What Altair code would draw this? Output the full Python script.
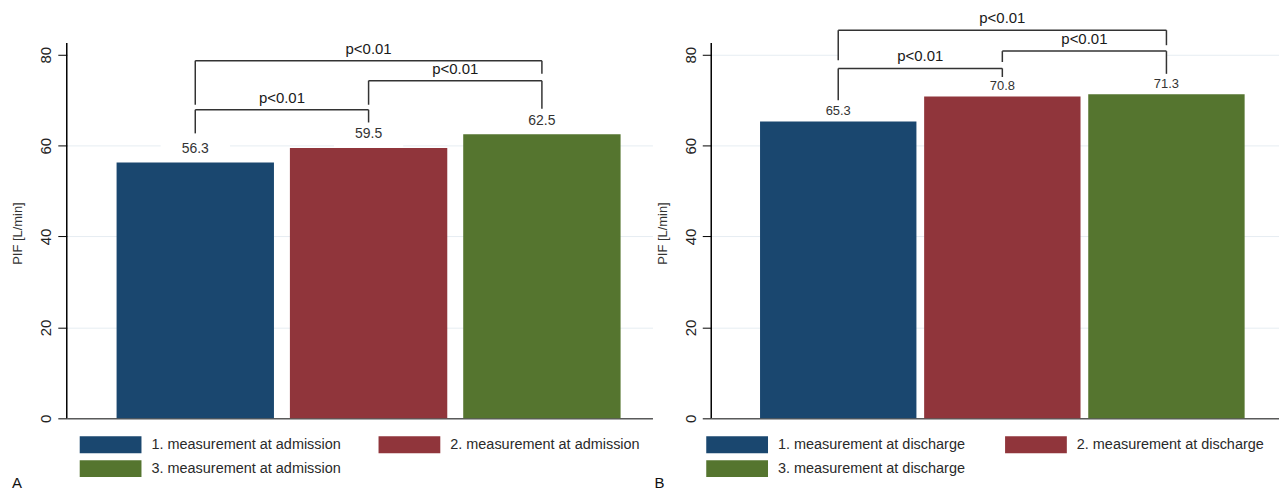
import altair as alt
import pandas as pd

# ---------------- data ----------------
A_categories = ["1. measurement at admission", "2. measurement at admission", "3. measurement at admission"]
A_values = [56.3, 59.5, 62.5]
B_categories = ["1. measurement at discharge", "2. measurement at discharge", "3. measurement at discharge"]
B_values = [65.3, 70.8, 71.3]
bar_colors = ["#1a476f", "#90353b", "#55752f"]

bracket_from = [1, 2, 1]
bracket_to = [2, 3, 3]
bracket_text = ["p<0.01", "p<0.01", "p<0.01"]
A_bracket_level = [67.9, 74.3, 78.7]
A_bracket_left_end = [62.7, 69.0, 69.0]
A_bracket_right_end = [65.1, 68.1, 75.8]
B_bracket_level = [77.0, 80.8, 85.4]
B_bracket_left_end = [70.0, 78.4, 78.8]
B_bracket_right_end = [75.1, 75.8, 82.1]

y_ticks = [0, 20, 40, 60, 80]
y_title = "PIF [L/min]"

# ---------------- layout constants ----------------
PLOT_H = 409
Y_TOP = 89.64
Y_AXIS_TOP = 82.6
GRID = "#e6edf2"


def panel(letter, cats, vals, lvl, lend, rend, width, xdom, half,
          label_size, label_dy, legend_x0, letter_x, grid80):
    bars = pd.DataFrame({"cat": cats, "idx": [1, 2, 3], "val": vals})
    br = pd.DataFrame({"a": bracket_from, "b": bracket_to, "lvl": lvl,
                       "lend": lend, "rend": rend, "txt": bracket_text})
    xs = alt.Scale(domain=xdom, nice=False, zero=False)
    ys = alt.Scale(domain=[0, Y_TOP], nice=False, zero=False)
    color = alt.Color("cat:N", scale=alt.Scale(domain=cats, range=bar_colors), legend=None)

    if grid80:
        grid_color = GRID
    else:
        grid_color = {"condition": {"test": "datum.value === 80", "value": "rgba(0,0,0,0)"},
                      "value": GRID}

    base = alt.Chart(bars)

    # white masks behind value labels and bracket area (cut the gridlines like the original)
    label_mask = base.transform_calculate(
        lo="datum.idx - 0.2", hi="datum.idx + 0.2", top="datum.val + 5.5"
    ).mark_rect(color="white").encode(
        x=alt.X("lo:Q", scale=xs), x2="hi:Q",
        y=alt.Y("val:Q", scale=ys), y2="top:Q",
    )
    bracket_mask = alt.Chart(br).transform_calculate(
        low="min(datum.lend, datum.rend)"
    ).transform_aggregate(
        x0="min(a)", x1="max(b)", y0="min(low)", y1="max(lvl)"
    ).mark_rect(color="white").encode(
        x=alt.X("x0:Q", scale=xs), x2="x1:Q",
        y=alt.Y("y0:Q", scale=ys), y2="y1:Q",
    )

    bar_layer = base.transform_calculate(
        lo=f"datum.idx - {half}", hi=f"datum.idx + {half}", zero="0"
    ).mark_rect().encode(
        x=alt.X("lo:Q", scale=xs,
                axis=alt.Axis(labels=False, ticks=False, title=None, grid=False,
                              domainColor="#5a5a5a", domainWidth=1.5)),
        x2="hi:Q",
        y=alt.Y("val:Q", scale=ys,
                axis=alt.Axis(values=y_ticks, title=y_title, domain=False,
                              tickColor="#000", tickSize=9, tickWidth=1,
                              labelAngle=270, labelAlign="center", labelBaseline="middle",
                              labelPadding=12, labelFontSize=15, labelColor="#222",
                              titleAngle=270, titleX=-49, titleY=223,
                              titleAlign="center", titleBaseline="middle",
                              titleFontSize=13, titleFontWeight="normal", titleColor="#333",
                              gridColor=grid_color, gridWidth=1)),
        y2="zero:Q",
        color=color,
    )

    value_labels = base.mark_text(fontSize=label_size, color="#333", baseline="middle",
                                  dy=label_dy).encode(
        x=alt.X("idx:Q", scale=xs), y=alt.Y("val:Q", scale=ys),
        text=alt.Text("val:Q", format=".1f"),
    )

    rule_style = dict(color="#333333", strokeWidth=1.5)
    hline = alt.Chart(br).mark_rule(**rule_style).encode(
        x=alt.X("a:Q", scale=xs), x2="b:Q", y=alt.Y("lvl:Q", scale=ys))
    lleg = alt.Chart(br).mark_rule(**rule_style).encode(
        x=alt.X("a:Q", scale=xs), y=alt.Y("lvl:Q", scale=ys), y2="lend:Q")
    rleg = alt.Chart(br).mark_rule(**rule_style).encode(
        x=alt.X("b:Q", scale=xs), y=alt.Y("lvl:Q", scale=ys), y2="rend:Q")
    plabels = alt.Chart(br).transform_calculate(
        mid="(datum.a + datum.b) / 2"
    ).mark_text(fontSize=15, dy=-12, baseline="middle", color="#1a1a1a").encode(
        x=alt.X("mid:Q", scale=xs), y=alt.Y("lvl:Q", scale=ys), text="txt:N")

    y_axis_line = alt.Chart(pd.DataFrame({"v": [0]})).mark_rule(
        color="black", strokeWidth=1.5
    ).encode(x=alt.value(0), y=alt.Y(datum=0, scale=ys), y2=alt.Y2(datum=Y_AXIS_TOP))

    # legend (two columns, rows filled left to right)
    leg = base.transform_calculate(
        lx=f"{legend_x0} + ((datum.idx - 1) % 2) * 300",
        ly="427 + floor((datum.idx - 1) / 2) * 24",
    ).transform_calculate(
        lx2="datum.lx + 62", ly2="datum.ly + 17", tx="datum.lx + 72", ty="datum.ly + 8.5"
    )
    leg_boxes = leg.mark_rect().encode(
        x=alt.X("lx:Q", scale=None), x2="lx2:Q",
        y=alt.Y("ly:Q", scale=None), y2="ly2:Q", color=color)
    leg_text = leg.mark_text(align="left", baseline="middle", fontSize=14.5, color="#2a2a2a").encode(
        x=alt.X("tx:Q", scale=None), y=alt.Y("ty:Q", scale=None), text="cat:N")

    letter_text = alt.Chart(pd.DataFrame({"t": [letter]})).mark_text(
        align="left", baseline="alphabetic", fontSize=15, color="#111"
    ).encode(x=alt.value(letter_x), y=alt.value(479), text="t:N")

    return alt.layer(
        label_mask, bracket_mask, bar_layer, value_labels,
        hline, lleg, rleg, plabels, y_axis_line, leg_boxes, leg_text, letter_text
    ).properties(width=width, height=PLOT_H)


A = panel("A", A_categories, A_values, A_bracket_level, A_bracket_left_end, A_bracket_right_end,
          width=588, xdom=[0.2586, 3.6379], half=0.454, label_size=14, label_dy=-13.5,
          legend_x0=13, letter_x=-55, grid80=False)
B = panel("B", B_categories, B_values, B_bracket_level, B_bracket_left_end, B_bracket_right_end,
          width=570, xdom=[0.2261, 3.6859], half=0.4765, label_size=13, label_dy=-10.5,
          legend_x0=-5, letter_x=-57, grid80=True)

chart = alt.hconcat(A, B, spacing=2).resolve_scale(color="independent").configure(
    padding={"left": 4, "top": 2, "right": 0, "bottom": 0},
    font="Liberation Sans",
).configure_view(stroke=None)

chart.save("out.html", embed_options={"renderer": "svg", "actions": False})
